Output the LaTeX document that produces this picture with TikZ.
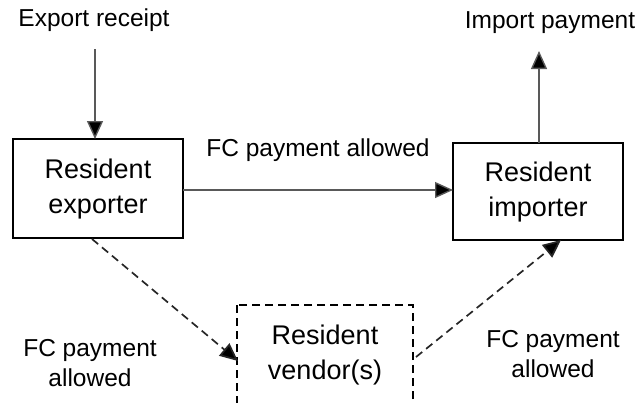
\documentclass[tikz,border=0pt]{standalone}
\usepackage{fontspec}
\setmainfont{Liberation Sans}
\usetikzlibrary{arrows.meta}
\begin{document}
\begin{tikzpicture}[x=1pt,y=-1pt,
  lbl/.style={font=\fontsize{24.5}{29.5}\selectfont, align=center, inner sep=0pt},
  boxtxt/.style={font=\fontsize{27}{35}\selectfont, align=center, inner sep=0pt},
  bx/.style={draw=black, line width=2.4pt},
  flow/.style={draw=black!65, line width=1.4pt, -{Triangle[length=18pt,width=16pt,fill=black]}},
  dflow/.style={draw=black!85, line width=1.7pt, dash pattern=on 8pt off 5pt, -{Triangle[length=18pt,width=16pt,fill=black]}}
]
\useasboundingbox (0,0) rectangle (639,402);
\begin{scope}
\clip (0,0) rectangle (639,402);
% boxes
\draw[bx] (13,139) rectangle (183,238);
\node[boxtxt] (exp) at (98,189.5) {Resident\\exporter};
\coordinate (expT) at (95,139);
\coordinate (expR) at (183,190);
\coordinate (expB) at (92,239);
\draw[bx] (453,143) rectangle (623,240);
\node[boxtxt] (imp) at (538,192) {Resident\\importer};
\coordinate (impT) at (539,143);
\coordinate (impL) at (453,190);
\coordinate (impB) at (561,240);
\draw[bx, dash pattern=on 8pt off 5pt] (237,305) rectangle (413,420);
\node[boxtxt] (ven) at (325,355) {Resident\\vendor(s)};
\coordinate (venL) at (238,361);
\coordinate (venR) at (416,357);
% labels
\node[lbl] (er) at (94,20) {Export receipt};
\coordinate (erB) at (95,49);
\node[lbl] (ip) at (550,23) {Import payment};
\coordinate (ipB) at (539,51);
\node[lbl] (fc1) at (318,150) {FC payment allowed};
\node[lbl] (fc2) at (90,363) {FC payment\\allowed};
\node[lbl] (fc3) at (553,354) {FC payment\\allowed};
% arrows
\draw[flow] (erB) -- (expT);
\draw[flow] (impT) -- (ipB);
\draw[flow] (expR) -- (impL);
\draw[dflow] (expB) -- (venL);
\draw[dflow] (venR) -- (impB);
\end{scope}
\end{tikzpicture}
\end{document}
